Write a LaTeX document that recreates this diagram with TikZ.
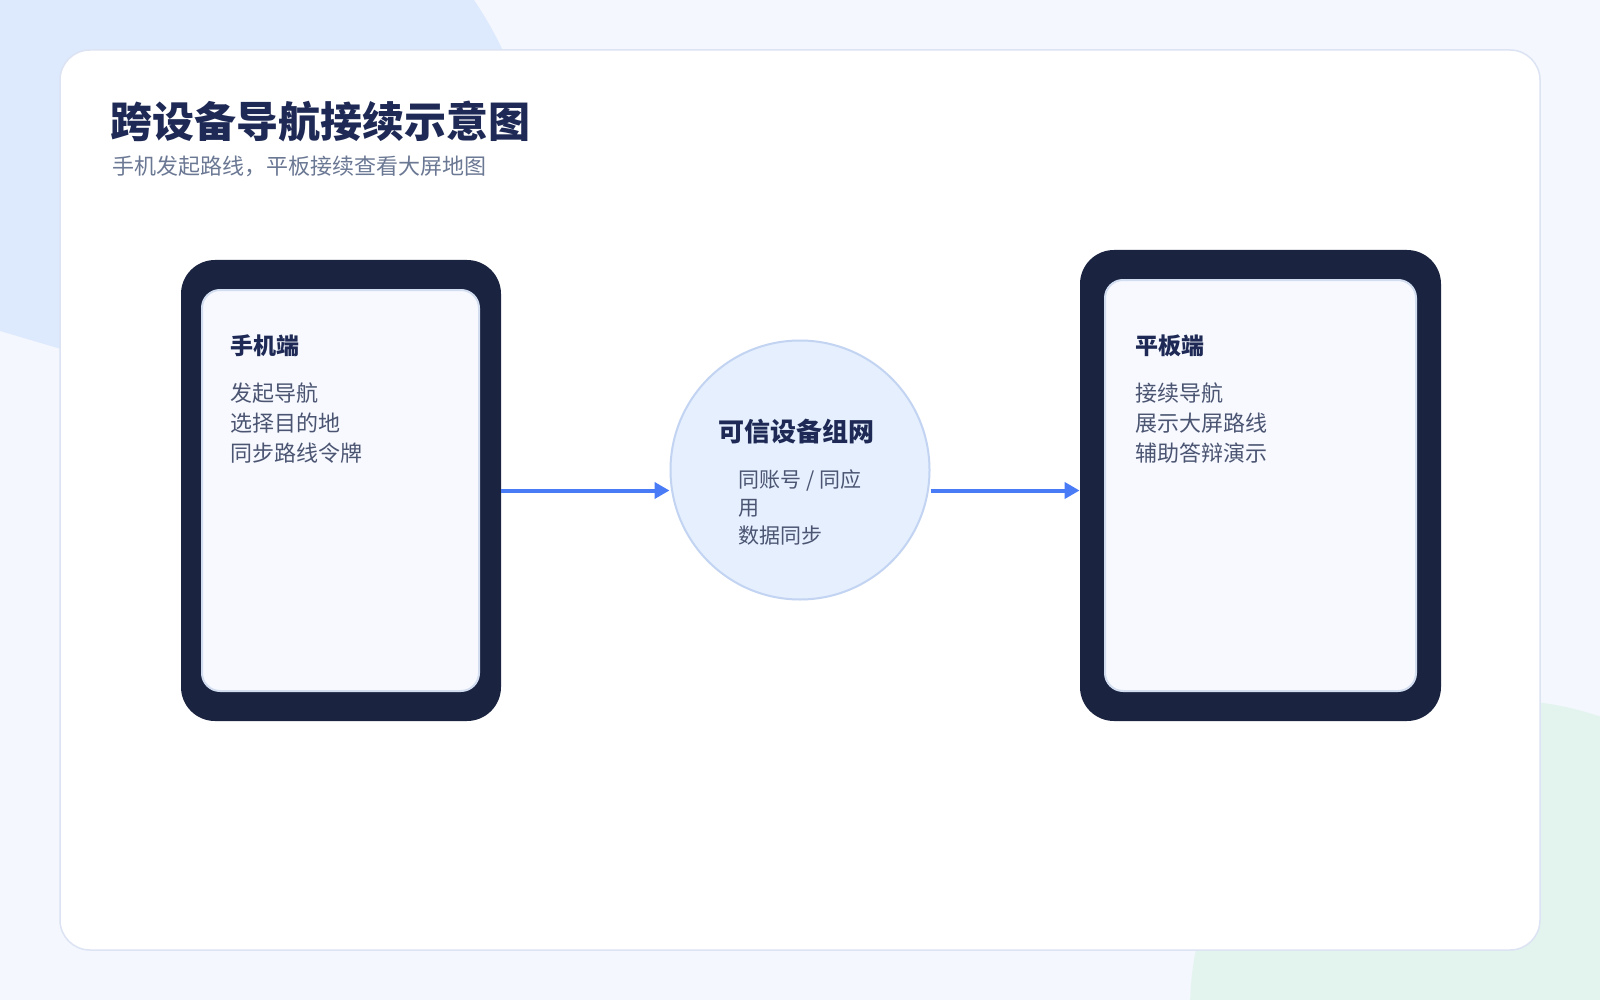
\documentclass[tikz,border=0pt]{standalone}
\usepackage{fontspec}
\setmainfont{Noto Sans CJK SC}
\usetikzlibrary{arrows.meta}

\definecolor{pagebg}{HTML}{F4F7FE}
\definecolor{blobblue}{HTML}{DDE9FC}
\definecolor{blobgreen}{HTML}{E3F4EE}
\definecolor{cardline}{HTML}{DCE3F3}
\definecolor{navy}{HTML}{1A2340}
\definecolor{screenbg}{HTML}{F7F9FF}
\definecolor{screenline}{HTML}{D3DDF0}
\definecolor{ink}{HTML}{1E2A55}
\definecolor{bodyink}{HTML}{4B5572}
\definecolor{subink}{HTML}{6B7894}
\definecolor{hubfill}{HTML}{E5EFFE}
\definecolor{hubline}{HTML}{C2D4F2}
\definecolor{linkblue}{HTML}{4A7BF7}

\begin{document}
\begin{tikzpicture}[x=0.5pt,y=-0.5pt]
      \tikzset{
        devframe/.style={fill=navy,rounded corners=17pt,inner sep=0pt},
        devscreen/.style={fill=screenbg,draw=screenline,line width=1pt,rounded corners=9pt,inner sep=0pt},
        devhead/.style={anchor=west,inner sep=0pt,text=ink,font=\bfseries\fontsize{11.5}{14}\selectfont},
        devbody/.style={anchor=west,inner sep=0pt,align=left,text=bodyink,font=\fontsize{11}{15}\selectfont},
        link/.style={draw=linkblue,line width=2pt,-{Triangle[length=7.5pt,width=8pt]}}
      }

      % page and card
      \useasboundingbox (0,0) rectangle (1600,1000);
      \fill[pagebg] (0,0) rectangle (1600,1000);
      \begin{scope}
        \clip (0,0) rectangle (1600,1000);
        \fill[blobblue] (0,0) -- (474,0) .. controls (490,24) and (502,46) .. (512,72) -- (200,390) -- (0,331) -- cycle;
        \fill[blobgreen] (1500,1010) circle[radius=310];
      \end{scope}
      \draw[cardline,fill=white,line width=0.75pt,rounded corners=15pt] (60,50) rectangle (1540,950);

      \node[anchor=west,inner sep=0pt,text=ink,font=\bfseries\fontsize{21}{25}\selectfont] (title) at (110,121) {跨设备导航接续示意图};
      \node[anchor=west,inner sep=0pt,text=subink,font=\fontsize{11}{14}\selectfont] (subtitle) at (112,166) {手机发起路线，平板接续查看大屏地图};

      % devices
      \node[devframe,minimum width=160pt,minimum height=230.5pt] (phone) at (341,490.5) {};
      \node[devscreen,minimum width=138.5pt,minimum height=200.5pt] (phonescr) at (340.5,490.5) {};
      \node[devframe,minimum width=180.5pt,minimum height=235.5pt] (tablet) at (1260.5,485.5) {};
      \node[devscreen,minimum width=155.5pt,minimum height=205.5pt] (tabletscr) at (1260.5,485.5) {};

      \node[devhead] (phonehead) at (230,346) {手机端};
      \node[devbody] (phonebody) at (230,423) {发起导航\\选择目的地\\同步路线令牌};
      \node[devhead] (tablethead) at (1135,346) {平板端};
      \node[devbody] (tabletbody) at (1135,423) {接续导航\\展示大屏路线\\辅助答辩演示};

      % hub
      \node[circle,fill=hubfill,draw=hubline,line width=1pt,minimum size=129.5pt,inner sep=0pt] (hub) at (800,470) {};
      \node[text=ink,inner sep=0pt,font=\bfseries\fontsize{13}{15}\selectfont] (hubhead) at (796,432) {可信设备组网};
      \node[anchor=west,inner sep=0pt,align=left,text=bodyink,font=\fontsize{10.5}{14}\selectfont] (hubbody) at (738,507) {同账号 / 同应\\用\\数据同步};

      \draw[link] (phone.east) -- (phone.east -| hub.west);
      \draw[link] (hub.east |- phone.east) -- (tablet.west |- phone.east);
    \end{tikzpicture}
\end{document}
